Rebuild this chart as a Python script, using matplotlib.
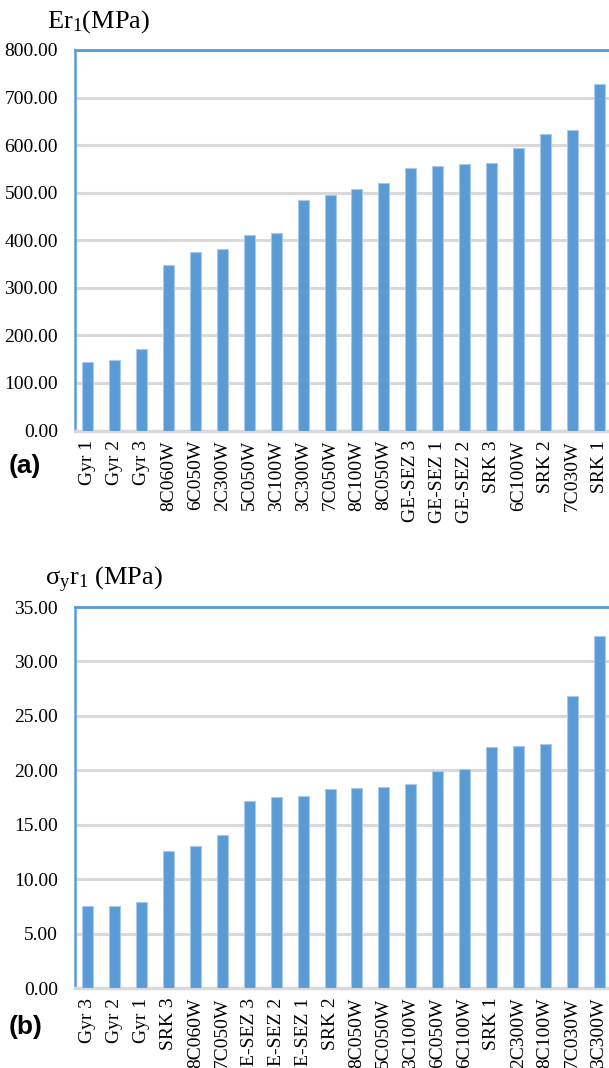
import matplotlib.pyplot as plt
from matplotlib.ticker import FormatStrFormatter

plt.rcParams['mathtext.fontset'] = 'custom'
plt.rcParams['mathtext.rm'] = 'Liberation Serif'
plt.rcParams['mathtext.it'] = 'Liberation Serif'

# elastic modulus Er1, sorted ascending
er_names = ['Gyr 1', 'Gyr 2', 'Gyr 3', '8C060W', '6C050W', '2C300W', '5C050W',
            '3C100W', '3C300W', '7C050W', '8C100W', '8C050W', 'GE-SEZ 3',
            'GE-SEZ 1', 'GE-SEZ 2', 'SRK 3', '6C100W', 'SRK 2', '7C030W', 'SRK 1']
er_vals = [144, 148, 171, 348, 375, 381, 412, 416, 484, 495,
           508, 520, 551, 557, 561, 562, 594, 624, 632, 728]

# yield stress sigma_y r1, sorted ascending
sy_names = ['Gyr 3', 'Gyr 2', 'Gyr 1', 'SRK 3', '8C060W', '7C050W', 'E-SEZ 3',
            'E-SEZ 2', 'E-SEZ 1', 'SRK 2', '8C050W', '5C050W', '3C100W',
            '6C050W', '6C100W', 'SRK 1', '2C300W', '8C100W', '7C030W', '3C300W']
sy_vals = [7.51, 7.57, 7.9, 12.56, 13.05, 14.1, 17.19, 17.56, 17.62, 18.24,
           18.33, 18.51, 18.72, 19.98, 20.1, 22.15, 22.2, 22.45, 26.8, 32.35]

blue = '#5B9BD5'
grid = '#D9D9D9'
serif = 'Liberation Serif'

fig = plt.figure(figsize=(6.09, 10.68), dpi=100)
ax1 = fig.add_axes([74.5 / 609, 0.5969, 538 / 609, 0.3563])
ax2 = fig.add_axes([74.5 / 609, 0.0749, 538 / 609, 0.3567])


def draw(ax, names, vals, ymax, step):
    x = range(len(names))
    ax.bar(x, vals, width=0.41, color=blue, edgecolor='#A9C8EA', linewidth=0.8, zorder=3)
    ax.set_xlim(-0.5, len(names) - 0.5)
    ax.set_ylim(0, ymax)
    ax.set_yticks([i * step for i in range(int(round(ymax / step)) + 1)])
    ax.yaxis.set_major_formatter(FormatStrFormatter('%.2f'))
    ax.set_xticks(list(x))
    ax.set_xticklabels(names, rotation=90, family=serif, fontsize=14)
    for lab in ax.get_yticklabels():
        lab.set_family(serif)
        lab.set_fontsize(14)
    ax.tick_params(length=0)
    ax.tick_params(axis='y', pad=12)
    ax.tick_params(axis='x', pad=7)
    ax.yaxis.grid(True, color=grid, linewidth=2.2, zorder=0)
    ax.set_axisbelow(True)
    ax.spines['left'].set_color(blue)
    ax.spines['left'].set_linewidth(1.8)
    ax.spines['top'].set_color(blue)
    ax.spines['top'].set_linewidth(2)
    ax.spines['right'].set_visible(False)
    ax.spines['bottom'].set_color(grid)
    ax.spines['bottom'].set_linewidth(2.5)


draw(ax1, er_names, er_vals, 800, 100)
draw(ax2, sy_names, sy_vals, 35, 5)

fig.text(47 / 609, 1 - 22 / 1068, r'Er$_\mathregular{1}$(MPa)', family=serif, fontsize=19,
         va='center')
fig.text(45 / 609, 1 - 580 / 1068, r'σ$_\mathregular{y}$r$_\mathregular{1}$ (MPa)',
         family=serif, fontsize=19, va='center')
fig.text(9 / 609, 1 - 466 / 1068, '(a)', family='Liberation Sans', fontweight='bold',
         fontsize=19, va='center')
fig.text(9 / 609, 1 - 1027 / 1068, '(b)', family='Liberation Sans', fontweight='bold',
         fontsize=19, va='center')

fig.savefig('out.png', dpi=100)
